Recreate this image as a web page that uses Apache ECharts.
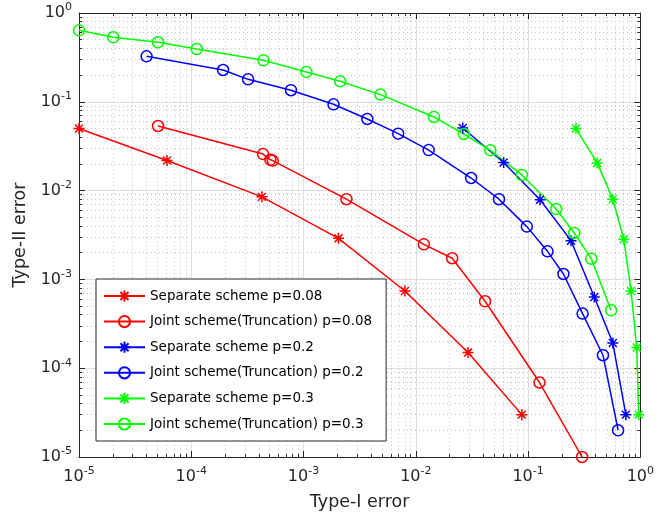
<!DOCTYPE html>
<html><head><meta charset="utf-8">
<script src="https://cdn.jsdelivr.net/npm/echarts@6/dist/echarts.min.js"></script>
<style>html,body{margin:0;padding:0;background:#fff}#c{width:657px;height:520px}</style>
</head><body><div id="c"></div>
<script>
const seriesNames = ['Separate scheme p=0.08','Joint scheme(Truncation) p=0.08','Separate scheme p=0.2','Joint scheme(Truncation) p=0.2','Separate scheme p=0.3','Joint scheme(Truncation) p=0.3'];
const sep008X = [1e-5, 6.08e-5, 4.26e-4, 2.05e-3, 8.0e-3, 0.0292, 0.088];
const sep008Y = [0.05, 0.0218, 0.0085, 0.0029, 7.4e-4, 1.5e-4, 3.0e-5];
const joint008X = [5.06e-5, 4.36e-4, 5.06e-4, 5.32e-4, 2.41e-3, 0.0118, 0.0211, 0.0414, 0.1265, 0.303];
const joint008Y = [0.0534, 0.0258, 0.0222, 0.0218, 0.0080, 0.00248, 0.00173, 5.67e-4, 6.9e-5, 1e-5];
const sep02X = [0.0262, 0.0606, 0.128, 0.2415, 0.389, 0.569, 0.743];
const sep02Y = [0.0507, 0.0207, 0.0079, 0.00273, 6.34e-4, 1.92e-4, 3.0e-5];
const joint02X = [4.0e-5, 1.92e-4, 3.21e-4, 7.73e-4, 1.85e-3, 3.70e-3, 6.97e-3, 0.01303, 0.0311, 0.0551, 0.0975, 0.149, 0.2066, 0.306, 0.465, 0.634];
const joint02Y = [0.325, 0.228, 0.179, 0.135, 0.0937, 0.064, 0.0438, 0.0286, 0.01386, 0.0080, 0.00393, 0.00207, 0.00115, 4.12e-4, 1.40e-4, 2.0e-5];
const sep03X = [0.267, 0.413, 0.569, 0.713, 0.827, 0.929, 0.968];
const sep03Y = [0.05, 0.0205, 0.0080, 0.00283, 7.4e-4, 1.71e-4, 3.0e-5];
const joint03X = [1e-5, 2.02e-5, 5.06e-5, 1.12e-4, 4.4e-4, 1.06e-3, 2.12e-3, 4.85e-3, 0.01453, 0.0268, 0.0462, 0.088, 0.178, 0.258, 0.366, 0.549];
const joint03Y = [0.638, 0.533, 0.468, 0.393, 0.293, 0.217, 0.170, 0.1205, 0.0675, 0.0434, 0.0284, 0.0150, 0.0062, 0.00333, 0.00171, 4.49e-4];
const majorTicks = [1e-5, 1e-4, 1e-3, 1e-2, 1e-1, 1];
const xLabel = 'Type-I error';
const yLabel = 'Type-II error';

const minorTicks = [];
for (let e = -5; e < 0; e++) for (let k = 2; k <= 9; k++) minorTicks.push(Number((k * Math.pow(10, e)).toPrecision(3)));

const AX = '#262626';
const FONT = 'DejaVu Sans';
const STAR = 'path://M0,-1L0,1M-1,0L1,0M-0.72,-0.72L0.72,0.72M-0.72,0.72L0.72,-0.72';

function fmt(v) {
  const e = Math.round(Math.log10(v));
  return '{b|10}{e|' + e + '}';
}
const rich = {
  b: {fontSize: 16, fontFamily: FONT, color: AX},
  e: {fontSize: 11, fontFamily: FONT, color: AX, padding: [0, 0, 11, 0]}
};

function mkAxis(isX, pos, kind) {
  return {
    type: 'log', logBase: 10, min: 1e-5, max: 1, position: pos, gridIndex: 0,
    axisLine: {show: kind === 'major', lineStyle: {color: AX, width: 1}},
    axisTick: {show: true, inside: true, length: kind === 'major' ? 6 : 3,
      lineStyle: {color: AX, width: 1}, customValues: kind === 'major' ? majorTicks : minorTicks},
    axisLabel: {show: false},
    splitLine: {show: false},
    minorTick: {show: false}, minorSplitLine: {show: false}
  };
}

const xAxes = [], yAxes = [];
const xb = mkAxis(true, 'bottom', 'major');
xb.axisLabel = {show: true, formatter: fmt, rich: rich, margin: 9, customValues: majorTicks};
xb.splitLine = {show: true, lineStyle: {color: '#dedede', width: 1}};
xb.name = xLabel; xb.nameLocation = 'middle'; xb.nameGap = 36;
xb.nameTextStyle = {fontSize: 17.5, fontFamily: FONT, color: AX};
const xbm = mkAxis(true, 'bottom', 'minor');
xbm.splitLine = {show: true, lineStyle: {color: '#c4c4c4', width: 1, type: [1, 3]}};
const xt = mkAxis(true, 'top', 'major');
const xtm = mkAxis(true, 'top', 'minor');
xAxes.push(xb, xbm, xt, xtm);

const yl = mkAxis(false, 'left', 'major');
yl.axisLabel = {show: true, formatter: fmt, rich: rich, margin: 7, customValues: majorTicks};
yl.splitLine = {show: true, lineStyle: {color: '#dedede', width: 1}};
yl.name = yLabel; yl.nameLocation = 'middle'; yl.nameGap = 47; yl.nameRotate = 90;
yl.nameTextStyle = {fontSize: 17.5, fontFamily: FONT, color: AX};
const ylm = mkAxis(false, 'left', 'minor');
ylm.splitLine = {show: true, lineStyle: {color: '#c4c4c4', width: 1, type: [1, 3]}};
const yr = mkAxis(false, 'right', 'major');
const yrm = mkAxis(false, 'right', 'minor');
yAxes.push(yl, ylm, yr, yrm);

function pairs(xs, ys) { return xs.map((x, i) => [x, ys[i]]); }
function mkSeries(name, xs, ys, color, isStar) {
  return {
    name: name, type: 'line', xAxisIndex: 0, yAxisIndex: 0,
    data: pairs(xs, ys), clip: false, z: 5,
    symbol: isStar ? STAR : 'circle',
    symbolSize: 11,
    showAllSymbol: true,
    lineStyle: {color: color, width: 1.5},
    itemStyle: isStar ? {color: color, borderColor: color, borderWidth: 1.5}
                      : {color: 'rgba(0,0,0,0)', borderColor: color, borderWidth: 1.5},
    emphasis: {disabled: true},
    animation: false
  };
}
const series = [
  mkSeries(seriesNames[0], sep008X, sep008Y, '#ff0000', true),
  mkSeries(seriesNames[1], joint008X, joint008Y, '#ff0000', false),
  mkSeries(seriesNames[2], sep02X, sep02Y, '#0000ff', true),
  mkSeries(seriesNames[3], joint02X, joint02Y, '#0000ff', false),
  mkSeries(seriesNames[4], sep03X, sep03Y, '#00ff00', true),
  mkSeries(seriesNames[5], joint03X, joint03Y, '#00ff00', false)
];

const chart = echarts.init(document.getElementById('c'), null, {renderer: 'canvas'});
chart.setOption({
  animation: false,
  backgroundColor: '#fff',
  grid: {left: 79, right: 14, top: 13, bottom: 63, containLabel: false},
  xAxis: xAxes,
  yAxis: yAxes,
  legend: {
    data: seriesNames, orient: 'vertical', left: 96, top: 279,
    itemWidth: 41, itemHeight: 14, itemGap: 11.6, itemTextGap: 8,
    padding: [10, 14, 10, 7],
    backgroundColor: '#fff', borderColor: AX, borderWidth: 1, borderRadius: 0,
    textStyle: {fontSize: 13.5, fontFamily: FONT, color: '#000'},
    selectedMode: false
  },
  series: series
});
</script></body></html>
